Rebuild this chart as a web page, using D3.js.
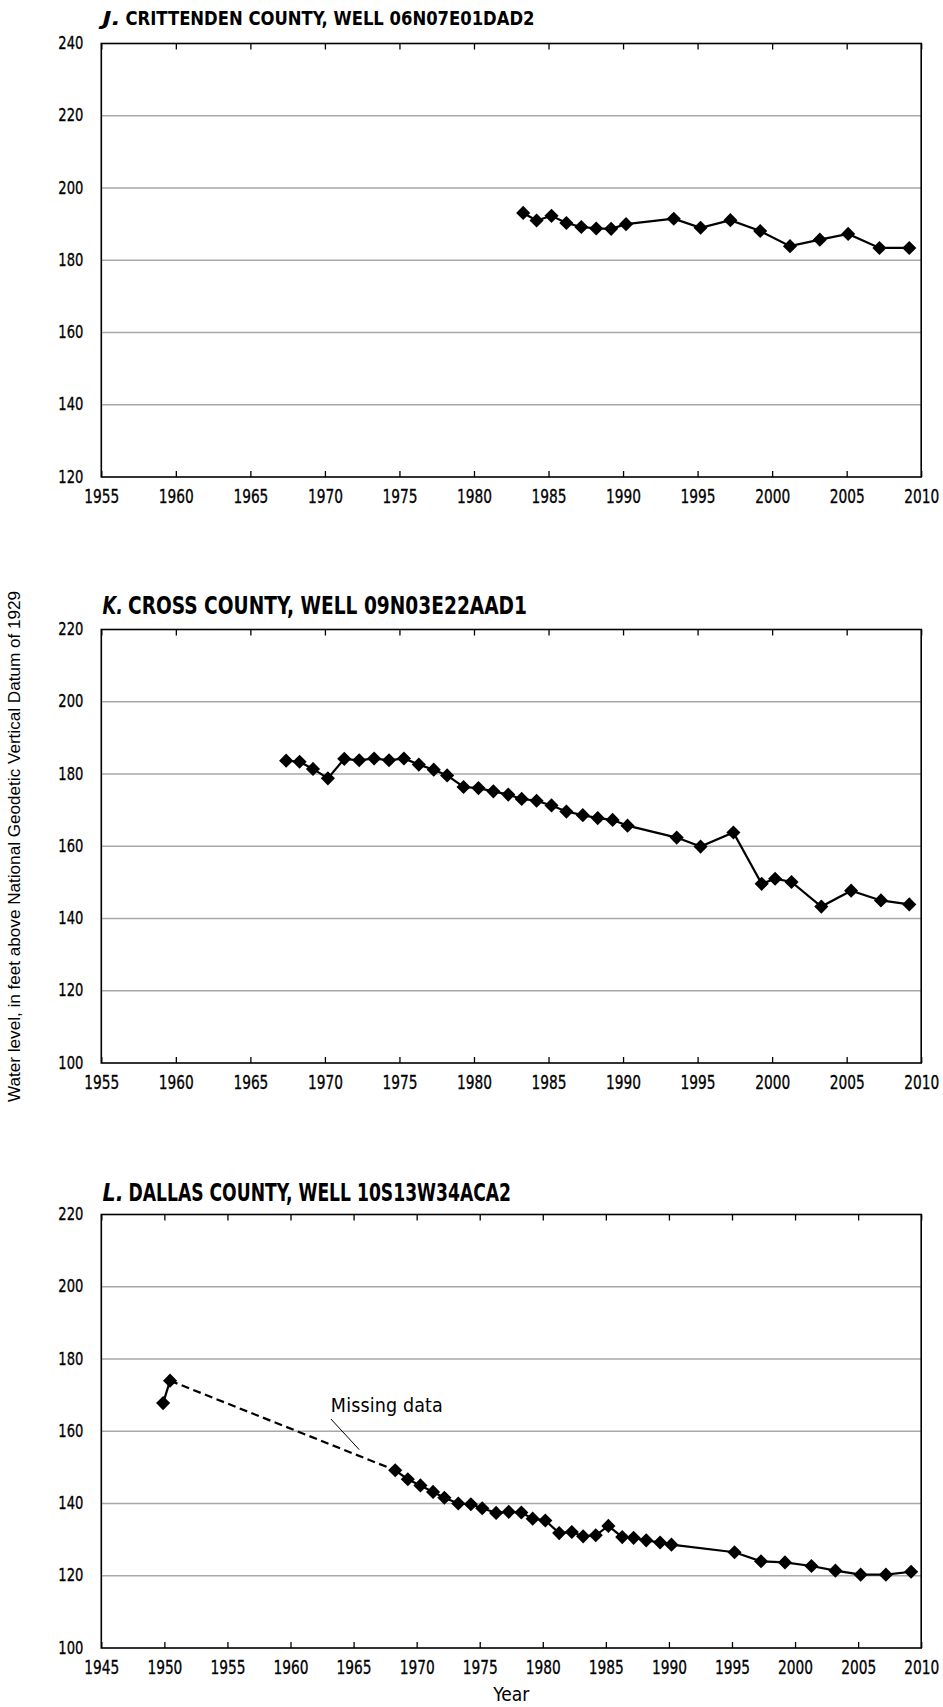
<!DOCTYPE html>
<html>
<head>
<meta charset="utf-8">
<script src="https://cdn.jsdelivr.net/npm/d3@7/dist/d3.min.js"></script>
<style>
  body { margin: 0; background: #fff; }
  svg { display: block; }
</style>
</head>
<body>
<svg id="fig" width="943" height="1707"></svg>
<script>
// ---- Water-level records (year, feet above NGVD 1929) ----
const crittendenYears  = [1983.3, 1984.2, 1985.2, 1986.2, 1987.2, 1988.2, 1989.2, 1990.2, 1993.4, 1995.2, 1997.2, 1999.2, 2001.2, 2003.2, 2005.1, 2007.2, 2009.2];
const crittendenLevels = [193.1, 191.0, 192.3, 190.3, 189.2, 188.8, 188.7, 190.0, 191.5, 189.0, 191.1, 188.1, 183.9, 185.7, 187.3, 183.4, 183.4];

const crossYears  = [1967.4, 1968.3, 1969.2, 1970.2, 1971.3, 1972.3, 1973.3, 1974.3, 1975.3, 1976.3, 1977.3, 1978.2, 1979.3, 1980.3, 1981.3, 1982.3, 1983.2, 1984.2, 1985.2, 1986.2, 1987.3, 1988.3, 1989.3, 1990.3, 1993.6, 1995.2, 1997.4, 1999.3, 2000.2, 2001.3, 2003.3, 2005.3, 2007.3, 2009.2];
const crossLevels = [183.7, 183.4, 181.4, 178.8, 184.2, 183.8, 184.3, 183.8, 184.3, 182.6, 181.2, 179.6, 176.4, 176.1, 175.2, 174.3, 173.1, 172.6, 171.3, 169.6, 168.6, 167.8, 167.3, 165.7, 162.4, 159.9, 163.8, 149.6, 151.0, 150.1, 143.3, 147.7, 145.0, 143.9];

const dallasYears  = [1949.9, 1950.45, 1968.3, 1969.3, 1970.3, 1971.3, 1972.2, 1973.3, 1974.3, 1975.2, 1976.3, 1977.3, 1978.3, 1979.2, 1980.2, 1981.3, 1982.3, 1983.2, 1984.2, 1985.2, 1986.3, 1987.2, 1988.2, 1989.3, 1990.2, 1995.2, 1997.3, 1999.2, 2001.3, 2003.2, 2005.2, 2007.2, 2009.2];
const dallasLevels = [167.8, 174.0, 149.2, 146.7, 145.0, 143.2, 141.6, 140.0, 139.8, 138.7, 137.4, 137.7, 137.5, 135.8, 135.3, 131.8, 132.1, 130.9, 131.2, 133.8, 130.7, 130.5, 129.8, 129.2, 128.6, 126.5, 124.0, 123.7, 122.7, 121.4, 120.3, 120.3, 121.1];
// Record is missing between these two indices (drawn dashed)
const dallasGap = [1, 2];

// ---- Axis ticks ----
const yearTicksJK   = [1955, 1960, 1965, 1970, 1975, 1980, 1985, 1990, 1995, 2000, 2005, 2010];
const yearTicksL    = [1945, 1950, 1955, 1960, 1965, 1970, 1975, 1980, 1985, 1990, 1995, 2000, 2005, 2010];
const levelTicksJ   = [120, 140, 160, 180, 200, 220, 240];
const levelTicksKL  = [100, 120, 140, 160, 180, 200, 220];

// ---- Panel text ----
const panelLetters = ["J.", "K.", "L."];
const panelNames   = ["CRITTENDEN COUNTY, WELL 06N07E01DAD2", "CROSS COUNTY, WELL 09N03E22AAD1", "DALLAS COUNTY, WELL 10S13W34ACA2"];
const yAxisTitle = "Water level, in feet above National Geodetic Vertical Datum of 1929";
const xAxisTitle = "Year";
const annotationText = "Missing data";

// ---- Layout ----
const NARROW = "'Liberation Sans Narrow', 'Arial Narrow', 'DejaVu Sans Condensed', sans-serif";
const REGULAR = "'Liberation Sans', Arial, sans-serif";
const plotLeft = 101.3, plotRight = 921.2, plotHeight = 433.5;

const panels = [
  { top: 43.5,   years: crittendenYears, levels: crittendenLevels, xTicks: yearTicksJK, yTicks: levelTicksJ,  titleBase: 25,     titleSize: 20, nameStart: 125.5, titleEnd: 534.5 },
  { top: 629.5,  years: crossYears,      levels: crossLevels,      xTicks: yearTicksJK, yTicks: levelTicksKL, titleBase: 614,    titleSize: 24, nameStart: 128,   titleEnd: 527 },
  { top: 1214.5, years: dallasYears,     levels: dallasLevels,     xTicks: yearTicksL,  yTicks: levelTicksKL, titleBase: 1200.5, titleSize: 24, nameStart: 128.5, titleEnd: 511, gap: dallasGap }
];

const svg = d3.select("#fig");

// Condense a text element horizontally to a set width
function fitWidth(sel, w) {
  sel.attr("textLength", w).attr("lengthAdjust", "spacingAndGlyphs");
}
// Squeeze tick labels horizontally about their anchor so they read as a condensed face
function squeeze(sel, w, anchorX) {
  sel.each(function () {
    const t = d3.select(this);
    const natural = this.getComputedTextLength();
    const k = Math.min(1, w / natural);
    t.attr("x", anchorX / k).attr("transform", `scale(${k},1)`);
  });
}

panels.forEach((p, i) => {
  const bottom = p.top + plotHeight;
  const x = d3.scaleLinear().domain([p.xTicks[0], p.xTicks[p.xTicks.length - 1]]).range([plotLeft, plotRight]);
  const y = d3.scaleLinear().domain([p.yTicks[0], p.yTicks[p.yTicks.length - 1]]).range([bottom, p.top]);
  const g = svg.append("g");

  // Title: italic panel letter, then the bold well name
  g.append("text")
    .attr("x", 102.5).attr("y", p.titleBase)
    .attr("font-family", NARROW).attr("font-weight", "bold").attr("font-style", "italic")
    .attr("font-size", p.titleSize).attr("fill", "#000")
    .call(fitWidth, p.nameStart - 102.5 - 5)
    .text(panelLetters[i]);
  g.append("text")
    .attr("x", p.nameStart).attr("y", p.titleBase)
    .attr("font-family", NARROW).attr("font-weight", "bold")
    .attr("font-size", p.titleSize).attr("fill", "#000")
    .call(fitWidth, p.titleEnd - p.nameStart)
    .text(panelNames[i]);

  // Horizontal gridlines at interior level ticks
  g.append("g").selectAll("line")
    .data(p.yTicks.slice(1, -1))
    .join("line")
    .attr("x1", plotLeft).attr("x2", plotRight)
    .attr("y1", d => y(d)).attr("y2", d => y(d))
    .attr("stroke", "#a8a8a8").attr("stroke-width", 1.5);

  // Level labels
  const yAxis = g.append("g").attr("transform", `translate(${plotLeft},0)`)
    .call(d3.axisLeft(y).tickValues(p.yTicks).tickSize(0).tickPadding(18));
  yAxis.select(".domain").remove();
  yAxis.selectAll("text")
    .attr("font-family", NARROW).attr("font-size", 18.5).attr("fill", "#000")
    .attr("stroke", "#000").attr("stroke-width", 0.3)
    .attr("dy", null).attr("y", 5)
    .call(squeeze, 25, -18);

  // Year ticks on bottom (with labels) and top, both pointing inward
  const xAxis = g.append("g").attr("transform", `translate(0,${bottom})`)
    .call(d3.axisBottom(x).tickValues(p.xTicks).tickFormat(d3.format("d")).tickSizeInner(-6).tickSizeOuter(0));
  xAxis.select(".domain").remove();
  xAxis.selectAll("line").attr("stroke", "#000").attr("stroke-width", 1.3);
  xAxis.selectAll("text")
    .attr("font-family", NARROW).attr("font-size", 19).attr("fill", "#000")
    .attr("stroke", "#000").attr("stroke-width", 0.3)
    .attr("dy", null).attr("y", 26)
    .call(squeeze, 35, 0);

  const xTop = g.append("g").attr("transform", `translate(0,${p.top})`)
    .call(d3.axisTop(x).tickValues(p.xTicks).tickFormat("").tickSizeInner(-6).tickSizeOuter(0));
  xTop.select(".domain").remove();
  xTop.selectAll("line").attr("stroke", "#000").attr("stroke-width", 1.3);

  // Frame
  g.append("rect")
    .attr("x", plotLeft).attr("y", p.top)
    .attr("width", plotRight - plotLeft).attr("height", plotHeight)
    .attr("fill", "none").attr("stroke", "#000").attr("stroke-width", 1.6);

  // Series
  const pts = p.years.map((yr, k) => ({ yr, lv: p.levels[k] }));
  const line = d3.line().x(d => x(d.yr)).y(d => y(d.lv));
  let segments = [{ data: pts, dashed: false }];
  if (p.gap) {
    segments = [
      { data: pts.slice(0, p.gap[0] + 1), dashed: false },
      { data: pts.slice(p.gap[0], p.gap[1] + 1), dashed: true },
      { data: pts.slice(p.gap[1]), dashed: false }
    ];
  }
  segments.forEach(s => {
    g.append("path").datum(s.data)
      .attr("d", line)
      .attr("fill", "none").attr("stroke", "#000").attr("stroke-width", 2.2)
      .attr("stroke-dasharray", s.dashed ? "8,4.5" : null);
  });

  const diamond = d3.symbol(d3.symbolSquare, 100);
  g.append("g").selectAll("path")
    .data(pts)
    .join("path")
    .attr("d", diamond)
    .attr("transform", d => `translate(${x(d.yr)},${y(d.lv)}) rotate(45)`)
    .attr("fill", "#000");

  // Missing-record note on the Dallas County panel
  if (p.gap) {
    g.append("text")
      .attr("x", x(1963.2)).attr("y", y(165.3))
      .attr("font-family", NARROW).attr("font-size", 19.5).attr("fill", "#000")
      .attr("textLength", 112).attr("lengthAdjust", "spacing")
      .text(annotationText);
    g.append("line")
      .attr("x1", x(1963.2)).attr("y1", y(163.4))
      .attr("x2", x(1965.45)).attr("y2", y(154.9))
      .attr("stroke", "#000").attr("stroke-width", 1);
  }

  // Shared x-axis title below the last panel
  if (i === panels.length - 1) {
    svg.append("text")
      .attr("x", (plotLeft + plotRight) / 2).attr("y", 1701)
      .attr("text-anchor", "middle")
      .attr("font-family", NARROW).attr("font-size", 20).attr("fill", "#000")
      .call(fitWidth, 36)
      .text(xAxisTitle);
  }
});

// Shared y-axis title
svg.append("text")
  .attr("transform", "translate(20,846.5) rotate(-90)")
  .attr("text-anchor", "middle")
  .attr("font-family", REGULAR).attr("font-size", 16).attr("fill", "#000")
  .call(fitWidth, 511)
  .text(yAxisTitle);
</script>
</body>
</html>
